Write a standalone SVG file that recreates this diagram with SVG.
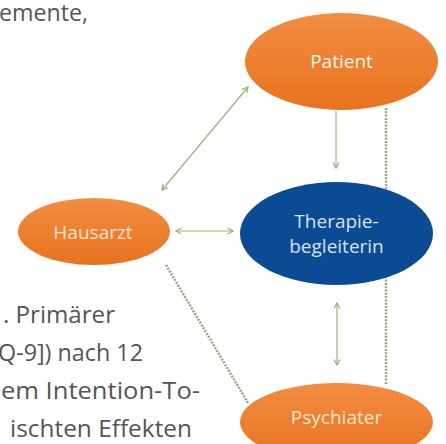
<svg xmlns="http://www.w3.org/2000/svg" width="446" height="444" viewBox="0 0 446 444">
  <style>
    .bg { font-family: "Open Sans", "Liberation Sans", sans-serif; font-size: 24px; fill: #555555; }
    .lbl { font-family: "Open Sans", "Liberation Sans", sans-serif; font-size: 19px; text-anchor: middle; }
    .arrow { stroke: #9CB07A; stroke-width: 1.2; fill: none; }
    .dot { stroke: #9AA67C; stroke-width: 2.5; fill: none; stroke-dasharray: 2 1.3; }
  </style>
  <defs>
    <linearGradient id="orange" x1="0" y1="0" x2="0" y2="1">
      <stop offset="0" stop-color="#F28D42"/>
      <stop offset="1" stop-color="#E8731E"/>
    </linearGradient>
    <filter id="soft" x="-10%" y="-10%" width="120%" height="120%">
      <feGaussianBlur stdDeviation="0.7"/>
    </filter>
    <marker id="ah" markerUnits="userSpaceOnUse" markerWidth="8" markerHeight="8" refX="6" refY="3.5" orient="auto-start-reverse">
      <path d="M0.5,0.5 L6,3.5 L0.5,6.5" fill="none" stroke="#9CB07A" stroke-width="1.3"/>
    </marker>
  </defs>
  <rect width="446" height="444" fill="#FFFFFF"/>
  <g id="background-text">
    <text class="bg" x="-1" y="21" textLength="89" lengthAdjust="spacingAndGlyphs">emente,</text>
    <text class="bg" x="3" y="323" textLength="112" lengthAdjust="spacingAndGlyphs">. Primärer</text>
    <text class="bg" x="-2" y="361" textLength="145" lengthAdjust="spacingAndGlyphs">Q-9]) nach 12</text>
    <text class="bg" x="1" y="399" textLength="199" lengthAdjust="spacingAndGlyphs">em Intention-To-</text>
    <text class="bg" x="10" y="437" textLength="182" lengthAdjust="spacingAndGlyphs">ischten Effekten</text>
  </g>
  <g id="connectors">
    <line class="dot" x1="386" y1="108" x2="386" y2="384"/>
    <line class="dot" x1="166" y1="265" x2="248" y2="403"/>
    <line class="arrow" x1="162" y1="190" x2="248" y2="87" marker-start="url(#ah)" marker-end="url(#ah)"/>
    <line class="arrow" x1="176" y1="231" x2="233" y2="231" marker-start="url(#ah)" marker-end="url(#ah)"/>
    <line class="arrow" x1="336" y1="111" x2="336" y2="168" marker-end="url(#ah)"/>
    <line class="arrow" x1="337" y1="303" x2="337" y2="365" marker-start="url(#ah)" marker-end="url(#ah)"/>
  </g>
  <g id="patient">
    <ellipse cx="341.5" cy="61.5" rx="96.5" ry="48.5" fill="url(#orange)"/>
    <text class="lbl" x="341.5" y="68" fill="#FFF6EE" font-size="20">Patient</text>
  </g>
  <g id="hausarzt">
    <ellipse cx="94" cy="231.5" rx="76" ry="33.5" fill="url(#orange)" filter="url(#soft)"/>
    <text class="lbl" x="93" y="239" fill="#FCE6D2">Hausarzt</text>
  </g>
  <g id="therapiebegleiterin">
    <ellipse cx="336.5" cy="233.5" rx="96.5" ry="51.5" fill="#0A4B93"/>
    <text class="lbl" x="336.5" y="228" fill="#D3E3F4">Therapie-</text>
    <text class="lbl" x="336.5" y="253" fill="#D3E3F4">begleiterin</text>
  </g>
  <g id="psychiater">
    <ellipse cx="336.5" cy="422" rx="96.5" ry="39" fill="url(#orange)"/>
    <text class="lbl" x="336.5" y="424" fill="#FCE6D2" font-size="20">Psychiater</text>
  </g>
</svg>
